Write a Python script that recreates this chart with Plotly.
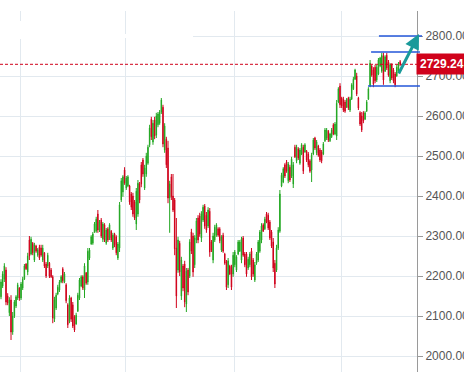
import plotly.graph_objects as go

# ---- data ----
opens = [
 2148,2175,2192,2215,2150,2108,2140,2060,2100,2125,
 2145,2170,2145,2170,2192,2230,2210,2290,2255,2282,
 2240,2275,2252,2272,2270,2240,2258,2230,2225,2232,
 2215,2198,2092,2120,2155,2165,2185,2218,2185,2178,
 2128,2088,2145,2128,2098,2080,2112,2145,2175,2198,
 2165,2208,2185,2245,2280,2282,2310,2312,2355,2315,
 2340,2292,2328,2282,2318,2295,2312,2270,2305,2298,
 2245,2270,2390,2410,2465,2420,2425,2425,2405,2400,
 2385,2330,2355,2430,2478,2490,2420,2455,2482,2528,
 2592,2535,2590,2552,2578,2582,2610,2622,2515,2542,
 2520,2395,2448,2400,2390,2270,2215,2282,2150,2225,
 2230,2130,2215,2200,2310,2300,2228,2290,2345,2350,
 2295,2340,2375,2352,2325,2362,2285,2240,2290,2302,
 2318,2318,2265,2302,2255,2235,2178,2225,2222,2205,
 2228,2215,2255,2262,2240,2295,2255,2255,2220,2228,
 2262,2240,2190,2232,2240,2262,2290,2328,2318,2355,
 2352,2335,2310,2285,2232,2215,2270,2312,2425,2435,
 2478,2485,2438,2472,2450,2430,2522,2488,2518,2482,
 2505,2522,2510,2512,2505,2488,2465,2505,2545,2508,
 2525,2515,2510,2505,2538,2545,2562,2538,2548,2578,
 2555,2550,2635,2675,2645,2642,2635,2622,2645,2615,
 2642,2668,2692,2700,2645,2608,2600,2608,2592,2612,
 2642,2675,2725,2715,2722,2690,2705,2725,2712,2750,
 2712,2752,2735,2688,2728,2715,2705,2700,2712,2736]
highs = [
 2192,2212,2232,2222,2157,2147,2152,2110,2140,2152,
 2183,2172,2185,2198,2230,2232,2258,2300,2298,2285,
 2283,2278,2270,2278,2278,2278,2260,2235,2258,2235,
 2220,2202,2148,2158,2178,2190,2202,2222,2210,2182,
 2132,2152,2148,2135,2102,2108,2158,2195,2202,2202,
 2232,2210,2270,2270,2302,2310,2335,2348,2365,2340,
 2345,2335,2332,2320,2322,2332,2315,2308,2308,2302,
 2285,2385,2445,2452,2472,2450,2452,2428,2410,2408,
 2390,2420,2440,2435,2485,2495,2478,2508,2528,2578,
 2598,2590,2598,2608,2610,2615,2645,2628,2582,2548,
 2538,2438,2455,2455,2395,2345,2298,2288,2248,2230,
 2238,2220,2220,2292,2318,2308,2302,2345,2352,2358,
 2362,2378,2380,2360,2372,2370,2290,2308,2328,2332,
 2322,2322,2302,2308,2258,2240,2245,2228,2228,2260,
 2265,2252,2290,2290,2298,2300,2260,2260,2248,2260,
 2270,2245,2235,2260,2290,2315,2332,2332,2348,2360,
 2358,2340,2315,2295,2240,2278,2322,2415,2458,2472,
 2482,2490,2485,2478,2498,2485,2528,2528,2522,2520,
 2532,2528,2532,2515,2510,2492,2508,2545,2548,2540,
 2528,2520,2515,2535,2570,2570,2565,2558,2570,2582,
 2585,2640,2672,2682,2648,2648,2640,2645,2648,2648,
 2682,2698,2718,2708,2648,2612,2610,2612,2612,2640,
 2672,2740,2728,2722,2728,2728,2745,2748,2758,2758,
 2752,2758,2740,2732,2732,2720,2710,2728,2735,2740]
lows = [
 2142,2170,2185,2127,2127,2100,2040,2053,2095,2120,
 2140,2138,2140,2165,2190,2215,2202,2240,2252,2252,
 2235,2258,2248,2240,2248,2235,2220,2195,2220,2195,
 2195,2082,2085,2115,2152,2160,2182,2182,2182,2132,
 2070,2082,2085,2070,2060,2078,2110,2140,2172,2165,
 2145,2178,2178,2240,2278,2278,2308,2308,2308,2310,
 2295,2285,2285,2278,2285,2290,2285,2265,2272,2252,
 2240,2260,2385,2398,2428,2415,2422,2378,2365,2348,
 2340,2315,2348,2382,2422,2448,2415,2448,2478,2522,
 2540,2528,2542,2545,2572,2578,2605,2522,2508,2470,
 2382,2308,2390,2360,2252,2120,2208,2200,2140,2162,
 2122,2110,2152,2195,2255,2198,2220,2282,2282,2298,
 2285,2335,2318,2308,2320,2248,2260,2232,2285,2298,
 2298,2282,2260,2258,2228,2165,2170,2202,2165,2198,
 2222,2210,2252,2260,2232,2248,2222,2198,2215,2222,
 2190,2198,2185,2228,2235,2258,2282,2310,2315,2332,
 2315,2290,2270,2210,2170,2210,2265,2308,2422,2432,
 2445,2458,2432,2435,2445,2420,2495,2482,2490,2478,
 2502,2455,2508,2485,2472,2458,2435,2502,2515,2502,
 2498,2485,2482,2502,2535,2540,2535,2535,2545,2552,
 2552,2540,2632,2620,2620,2610,2608,2620,2615,2610,
 2640,2665,2690,2650,2615,2575,2560,2582,2590,2610,
 2640,2672,2698,2672,2682,2685,2702,2722,2708,2678,
 2710,2715,2698,2682,2690,2682,2672,2698,2708,2725]
closes = [
 2185,2205,2225,2135,2132,2140,2060,2100,2135,2148,
 2178,2145,2180,2192,2225,2218,2250,2250,2292,2258,
 2278,2262,2266,2245,2252,2270,2225,2200,2252,2200,
 2198,2095,2140,2152,2172,2185,2198,2188,2205,2138,
 2078,2145,2092,2075,2065,2102,2152,2190,2198,2170,
 2225,2182,2262,2265,2298,2305,2330,2342,2315,2335,
 2300,2330,2290,2315,2290,2328,2290,2302,2278,2258,
 2280,2378,2438,2448,2432,2445,2448,2385,2372,2355,
 2345,2412,2432,2390,2430,2455,2470,2500,2522,2570,
 2548,2582,2550,2600,2605,2610,2640,2530,2575,2478,
 2395,2430,2398,2365,2268,2150,2290,2210,2240,2170,
 2135,2212,2160,2285,2262,2210,2295,2338,2290,2305,
 2355,2372,2325,2315,2365,2260,2265,2300,2322,2328,
 2302,2288,2298,2262,2232,2172,2238,2205,2172,2252,
 2260,2248,2285,2285,2292,2252,2228,2205,2242,2255,
 2198,2205,2228,2255,2285,2310,2325,2312,2342,2335,
 2320,2295,2275,2220,2180,2270,2315,2405,2452,2468,
 2450,2462,2480,2440,2492,2478,2498,2522,2495,2515,
 2528,2462,2528,2490,2478,2462,2502,2540,2520,2535,
 2502,2490,2488,2530,2565,2565,2540,2555,2565,2555,
 2580,2632,2668,2628,2625,2615,2612,2642,2620,2642,
 2678,2692,2715,2655,2620,2580,2565,2588,2608,2635,
 2668,2732,2702,2680,2688,2722,2740,2745,2752,2690,
 2748,2720,2702,2728,2695,2688,2678,2722,2730,2729.24]
bars = list(range(len(closes)))

last_price = 2729.24
quarter_starts = [11.4, 74.3, 140.1, 203.6]     # vertical grid (quarter boundaries)
price_ticks = [2000, 2100, 2200, 2300, 2400, 2500, 2600, 2700, 2800]
level_prices = [2800, 2760, 2675]               # drawn horizontal levels
level_from_bar = [226.3, 221.6, 219.8]
level_to_paper = [1.012, 1.007, 1.007]
arrow_tail = (237.7, 2702.5)
arrow_head = (250.3, 2805)

GREEN = "#22a722"
RED = "#d0021b"
BLUE = "#2356d8"
TEAL = "#1a9a9a"
GRID = "#e2e9ef"

X_RANGE = [-0.6, 249.1]
Y_RANGE = [1960, 2862.5]

def xp(v):
    return (v - X_RANGE[0]) / (X_RANGE[1] - X_RANGE[0])

fig = go.Figure(go.Candlestick(
    x=bars, open=opens, high=highs, low=lows, close=closes,
    increasing=dict(line=dict(color=GREEN, width=1), fillcolor=GREEN),
    decreasing=dict(line=dict(color=RED, width=1), fillcolor=RED),
    whiskerwidth=0, showlegend=False, hoverinfo="skip",
))

shapes = []
# last price dashed line
shapes.append(dict(type="line", xref="paper", yref="y", x0=0, x1=1,
                   y0=last_price, y1=last_price,
                   line=dict(color=RED, width=1, dash="3px,2px"), layer="above"))
for p, b, e in zip(level_prices, level_from_bar, level_to_paper):
    shapes.append(dict(type="line", xref="paper", yref="y", x0=xp(b), x1=e,
                       y0=p, y1=p, line=dict(color=BLUE, width=1.5), layer="above"))
# white overlay pieces in the top-left (toolbar area)
shapes.append(dict(type="rect", xref="paper", yref="paper", x0=0, x1=193/417,
                   y0=0.9252, y1=0.9363, fillcolor="white", line=dict(width=0),
                   layer="above"))
shapes.append(dict(type="rect", xref="paper", yref="paper", x0=0, x1=0.072,
                   y0=0.9224, y1=0.9723, fillcolor="white", line=dict(width=0),
                   layer="above"))

annotations = [
    dict(xref="paper", yref="y", x=1.0, y=last_price, xanchor="left",
         yanchor="middle", text="<b>2729.24</b>", showarrow=False,
         font=dict(family="Liberation Sans, Arial", size=12, color="white"),
         bgcolor=RED, borderpad=3, xshift=-1),
    dict(xref="x", yref="y", axref="x", ayref="y",
         x=arrow_head[0], y=arrow_head[1], ax=arrow_tail[0], ay=arrow_tail[1],
         text="", showarrow=True, arrowhead=2, arrowsize=1, arrowwidth=3,
         arrowcolor=TEAL),
]

fig.update_layout(
    width=464, height=372,
    margin=dict(l=0, r=47, t=11, b=0),
    paper_bgcolor="white", plot_bgcolor="white",
    boxgap=0.55,
    shapes=shapes, annotations=annotations,
    xaxis=dict(range=X_RANGE, rangeslider=dict(visible=False),
               tickvals=quarter_starts, showticklabels=False, ticks="",
               showgrid=True, gridcolor=GRID, gridwidth=1, zeroline=False,
               showline=False, fixedrange=True),
    yaxis=dict(range=Y_RANGE, side="right", tickvals=price_ticks,
               tickformat=".2f", showgrid=True, gridcolor=GRID, gridwidth=1,
               zeroline=False, showline=True, linecolor="#9a9a9a", linewidth=1,
               ticks="outside", ticklen=5, tickcolor="#9a9a9a",
               tickfont=dict(family="Liberation Sans, Arial", size=12, color="#555555"),
               automargin=False, fixedrange=True),
)

fig.write_html("out.html", config={"displayModeBar": False},
               post_script="document.body.style.margin='0';"
                           "document.body.style.overflow='hidden';")
